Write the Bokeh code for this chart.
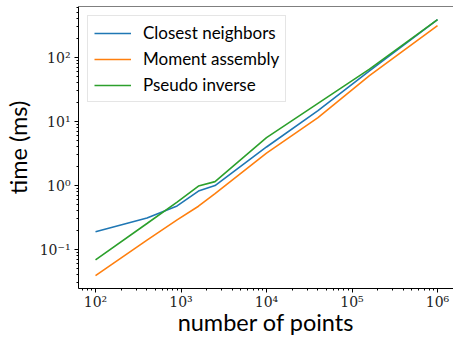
from bokeh.plotting import figure
from bokeh.models import Range1d, CustomJSTickFormatter, Legend, LegendItem, Span
from bokeh.embed import file_html
from bokeh.resources import INLINE

n_points = [100, 400, 900, 1600, 2500, 10000, 40000, 160000, 1000000]
closest_neighbors = [0.19, 0.31, 0.48, 0.82, 1.0, 4.0, 14.8, 62, 390]
moment_assembly = [0.039, 0.14, 0.29, 0.475, 0.75, 3.2, 11.5, 52, 316]
pseudo_inverse = [0.069, 0.255, 0.55, 0.98, 1.15, 5.6, 19.2, 66, 390]

series_names = ["Closest neighbors", "Moment assembly", "Pseudo inverse"]
colors = ["#1f77b4", "#ff7f0e", "#2ca02c"]
x_title = "number of points"
y_title = "time (ms)"

XLO, XHI = 10**1.801, 10**6.187
YLO, YHI = 10**-1.609, 10**2.797

p = figure(width=453, height=338, x_axis_type="log", y_axis_type="log",
           output_backend="svg", toolbar_location=None,
           x_range=Range1d(XLO, XHI), y_range=Range1d(YLO, YHI),
           min_border_left=78, min_border_right=0, min_border_top=6, min_border_bottom=50)

p.outline_line_color = None
p.xgrid.visible = False
p.ygrid.visible = False
p.background_fill_color = "white"
p.border_fill_color = "white"

top_line = Span(location=YHI, dimension="width", line_color="black", line_width=1)
p.add_layout(top_line)

items = []
for name, ys, c in zip(series_names, [closest_neighbors, moment_assembly, pseudo_inverse], colors):
    r = p.line(n_points, ys, line_color=c, line_width=1.6)
    items.append(LegendItem(label=name, renderers=[r]))

legend = Legend(items=items, location="top_left")
legend.margin = 9
legend.padding = 6
legend.spacing = 5
legend.glyph_width = 37
legend.glyph_height = 20
legend.label_height = 20
legend.label_standoff = 12
legend.label_text_font = "Lato"
legend.label_text_font_size = "17px"
legend.label_text_color = "black"
legend.border_line_color = "#cccccc"
legend.border_line_width = 1
legend.background_fill_alpha = 0.9
p.add_layout(legend)

fmt = CustomJSTickFormatter(code="""
const sup = {'0':'\u2070','1':'\u00b9','2':'\u00b2','3':'\u00b3','4':'\u2074','5':'\u2075','6':'\u2076','7':'\u2077','8':'\u2078','9':'\u2079','-':'\u207b'};
const e = Math.round(Math.log10(tick));
return '10' + String(e).split('').map(c => sup[c]).join('');
""")

for ax in [p.xaxis[0], p.yaxis[0]]:
    ax.formatter = fmt
    ax.major_label_text_font = "DejaVu Serif"
    ax.major_label_text_font_size = "14px"
    ax.major_label_text_color = "#222222"
    ax.axis_line_color = "black"
    ax.major_tick_line_color = "black"
    ax.minor_tick_line_color = "black"
    ax.major_tick_out = 4
    ax.major_tick_in = 0
    ax.minor_tick_out = 2
    ax.minor_tick_in = 0
    ax.axis_label_text_font = "Lato"
    ax.axis_label_text_font_size = "23.5px"
    ax.axis_label_text_font_style = "normal"
    ax.axis_label_text_color = "black"

p.xaxis.axis_label = x_title
p.yaxis.axis_label = y_title
p.xaxis.major_label_standoff = 1
p.xaxis.axis_label_standoff = -5
p.yaxis.major_label_standoff = 4
p.yaxis.axis_label_standoff = 5

open("out.html", "w").write(file_html(p, INLINE))
